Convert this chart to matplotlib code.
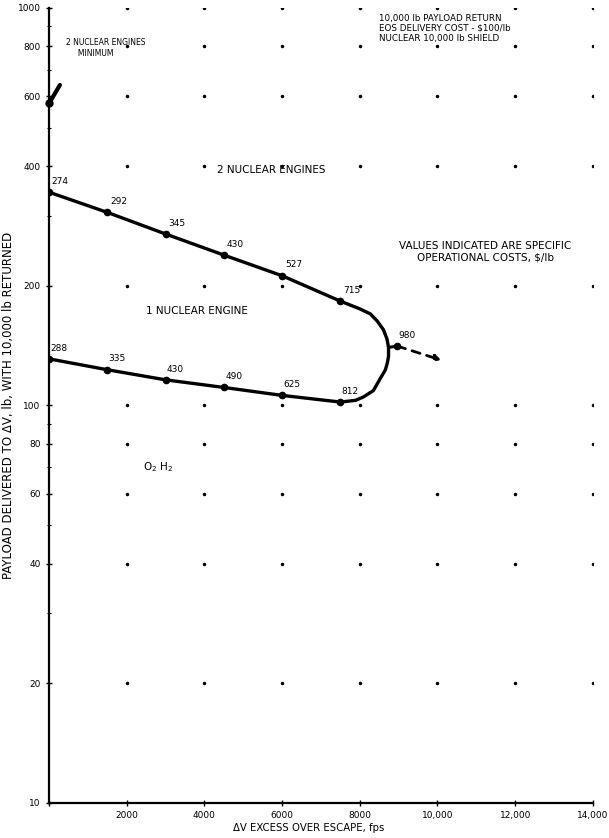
import numpy as np
import matplotlib
matplotlib.use("Agg")
import matplotlib.pyplot as plt

# data
x_ticks = [0, 2000, 4000, 6000, 8000, 10000, 12000, 14000]
x_ticklabels = ["", "2000", "4000", "6000", "8000", "10,000", "12,000", "14,000"]
y_ticks = [10, 20, 40, 60, 80, 100, 200, 400, 600, 800, 1000]
y_ticklabels = ["10", "20", "40", "60", "80", "100", "200", "400", "600", "800", "1000"]
y_minor = [30, 50, 70, 90, 300, 500, 700, 900]

# operating curve (upper branch -> nose -> lower branch)
curve_dv = [0, 1500, 3000, 4500, 6000, 7500, 8000, 8270, 8450, 8610, 8700, 8740,
            8740, 8710, 8660, 8530, 8350, 8090, 7890, 7500, 6000, 4500, 3000, 1500, 0]
curve_payload = [344, 306, 270, 239, 212, 183, 175, 170, 163, 155, 147, 140,
                 133, 128, 123, 117, 109, 105, 103, 102, 106, 111, 116, 123, 131]

upper_dv = [0, 1500, 3000, 4500, 6000, 7500]
upper_payload = [344, 306, 270, 239, 212, 183]
upper_cost = ["274", "292", "345", "430", "527", "715"]

lower_dv = [0, 1500, 3000, 4500, 6000, 7500]
lower_payload = [131, 123, 116, 111, 106, 102]
lower_cost = ["288", "335", "430", "490", "625", "812"]

ext_dv = [8970, 10100]
ext_payload = [141, 130]
ext_cost = "980"

min_dv = 0
min_payload = 575

fig = plt.figure(figsize=(6.09, 8.38), dpi=100)
ax = fig.add_axes([0.0805, 0.0418, 0.893, 0.9487])
ax.set_yscale("log")
ax.set_xlim(0, 14000)
ax.set_ylim(10, 1000)

for s in ["top", "right"]:
    ax.spines[s].set_visible(False)
ax.spines["left"].set_linewidth(1.6)
ax.spines["bottom"].set_linewidth(1.6)

ax.set_xticks(x_ticks)
ax.set_xticklabels(x_ticklabels, fontsize=6.5)
ax.set_yticks(y_ticks)
ax.set_yticklabels(y_ticklabels, fontsize=6.5)
ax.set_yticks(y_minor, minor=True)
ax.yaxis.set_minor_formatter(matplotlib.ticker.NullFormatter())
ax.tick_params(axis="both", which="major", direction="inout", length=5, width=1)
ax.tick_params(axis="y", which="minor", direction="inout", length=3, width=0.8)

# grid of dots at tick intersections
gx, gy = np.meshgrid(x_ticks[1:], y_ticks[1:])
ax.plot(gx.ravel(), gy.ravel(), ls="none", marker="o", ms=1.5, color="black")

# curve
ax.plot(curve_dv, curve_payload, color="black", lw=2.4, solid_capstyle="round",
        solid_joinstyle="round")
ax.plot(upper_dv, upper_payload, ls="none", marker="o", ms=4.5, color="black")
ax.plot(lower_dv, lower_payload, ls="none", marker="o", ms=4.5, color="black")
ax.plot([curve_dv[11], ext_dv[0]], [curve_payload[11], ext_payload[0]], color="black", lw=2.2)
ax.plot(ext_dv[0], ext_payload[0], marker="o", ms=4.5, color="black")
ax.annotate("", xy=(ext_dv[1], ext_payload[1]), xytext=(ext_dv[0], ext_payload[0]),
            arrowprops=dict(arrowstyle="-|>", lw=2, ls=(0, (3, 2.5)), color="black",
                            mutation_scale=9, shrinkA=0, shrinkB=0))

for x, y, t in zip(upper_dv, upper_payload, upper_cost):
    ax.annotate(t, (x, y), xytext=(2, 6), textcoords="offset points", fontsize=6.5)
for x, y, t in zip(lower_dv, lower_payload, lower_cost):
    ax.annotate(t, (x, y), xytext=(1, 6), textcoords="offset points", fontsize=6.5)
ax.annotate(ext_cost, (ext_dv[0], ext_payload[0]), xytext=(1, 6),
            textcoords="offset points", fontsize=6.5)

# 2 engines minimum marker
ax.plot(min_dv, min_payload, marker="o", ms=5, color="black", clip_on=False)
ax.annotate("", xy=(min_dv, min_payload), xytext=(280, 640),
            arrowprops=dict(arrowstyle="-", lw=3, color="black", shrinkA=0, shrinkB=2))
fig.text(0.108, 0.943, "2 NUCLEAR ENGINES\n     MINIMUM", fontsize=5.5, va="center",
         linespacing=1.3)

# region labels
fig.text(0.357, 0.797, "2 NUCLEAR ENGINES", fontsize=7.5, va="center")
fig.text(0.24, 0.629, "1 NUCLEAR ENGINE", fontsize=7.5, va="center")
fig.text(0.235, 0.443, r"O$_2$ H$_2$", fontsize=7.5, va="center")

fig.text(0.622, 0.966, "10,000 lb PAYLOAD RETURN\nEOS DELIVERY COST - $100/lb\nNUCLEAR 10,000 lb SHIELD",
         fontsize=6.3, va="center", linespacing=1.15)
fig.text(0.797, 0.700, "VALUES INDICATED ARE SPECIFIC\nOPERATIONAL COSTS, $/lb",
         fontsize=7.5, va="center", ha="center", multialignment="center", linespacing=1.2)

ax.set_xlabel("ΔV EXCESS OVER ESCAPE, fps", fontsize=7.3, labelpad=3)
ax.xaxis.set_label_coords(0.478, -0.025)
ax.set_ylabel("PAYLOAD DELIVERED TO ΔV, lb, WITH 10,000 lb RETURNED", fontsize=8.5)
ax.yaxis.set_label_coords(-0.062, 0.5)

fig.savefig("out.png", dpi=100)
